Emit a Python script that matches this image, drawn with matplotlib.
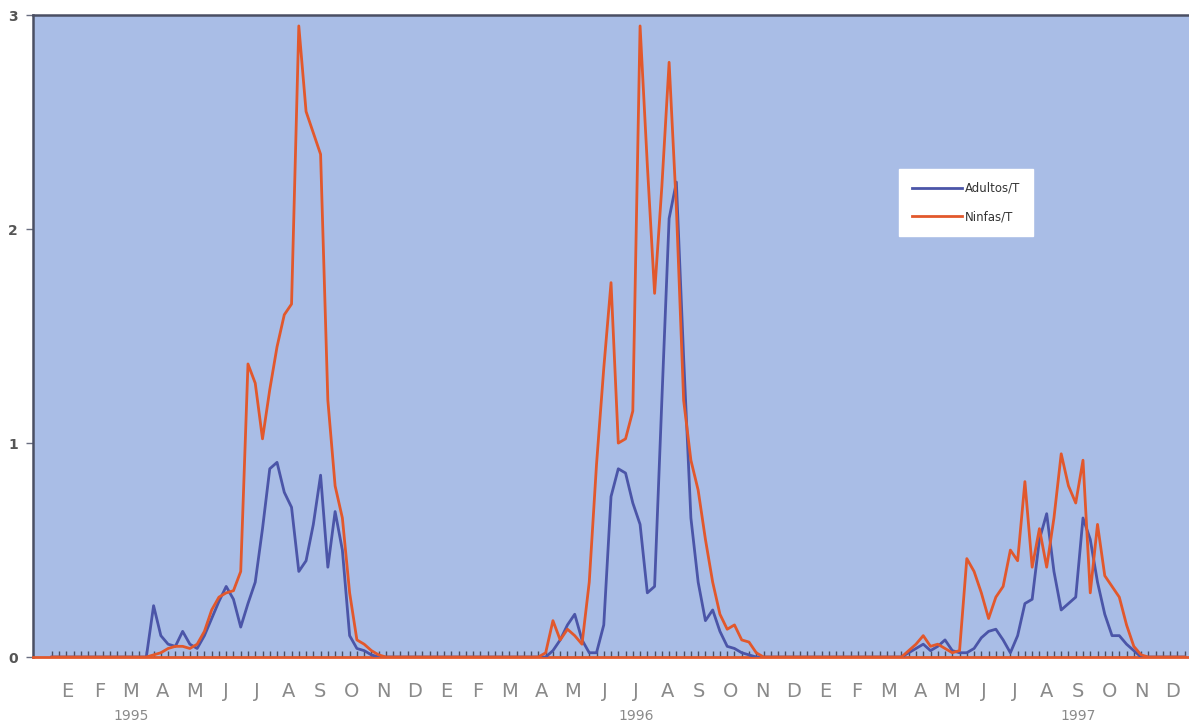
import numpy as np
import matplotlib
matplotlib.use("Agg")
import matplotlib.pyplot as plt
from matplotlib.transforms import blended_transform_factory

# ---------------- data (weekly samples, week 0 = first week of Jan 1995) ----------------
n_weeks = 157

# season 1995: weeks 12..46
w1995 = list(range(12, 47))
adultos_1995 = [0, 0, 0.24, 0.10, 0.06, 0.05, 0.12, 0.06, 0.04, 0.10, 0.18, 0.26, 0.33, 0.27,
                0.14, 0.25, 0.35, 0.60, 0.88, 0.91, 0.77, 0.70, 0.40, 0.45, 0.62, 0.85, 0.42,
                0.68, 0.50, 0.10, 0.04, 0.03, 0.01, 0, 0]
ninfas_1995 = [0, 0, 0.01, 0.02, 0.04, 0.05, 0.05, 0.04, 0.06, 0.12, 0.22, 0.28, 0.30, 0.31,
               0.40, 1.37, 1.28, 1.02, 1.25, 1.45, 1.60, 1.65, 2.95, 2.55, 2.45, 2.35, 1.20,
               0.80, 0.65, 0.30, 0.08, 0.06, 0.03, 0.01, 0]

# season 1996: weeks 67..98
w1996 = list(range(67, 99))
adultos_1996 = [0, 0, 0.03, 0.08, 0.15, 0.20, 0.08, 0.02, 0.02, 0.15, 0.75, 0.88, 0.86, 0.72,
                0.62, 0.30, 0.33, 1.20, 2.05, 2.22, 1.40, 0.65, 0.35, 0.17, 0.22, 0.12, 0.05,
                0.04, 0.02, 0.01, 0, 0]
ninfas_1996 = [0, 0.02, 0.17, 0.08, 0.13, 0.10, 0.06, 0.35, 0.90, 1.35, 1.75, 1.00, 1.02, 1.15,
               2.95, 2.30, 1.70, 2.20, 2.78, 2.10, 1.20, 0.92, 0.78, 0.55, 0.35, 0.20, 0.13,
               0.15, 0.08, 0.07, 0.02, 0]

# season 1997: weeks 117..151
w1997 = list(range(117, 152))
adultos_1997 = [0, 0.02, 0.04, 0.06, 0.03, 0.05, 0.08, 0.03, 0.02, 0.02, 0.04, 0.09, 0.12, 0.13,
                0.08, 0.02, 0.10, 0.25, 0.27, 0.55, 0.67, 0.40, 0.22, 0.25, 0.28, 0.65, 0.55,
                0.35, 0.20, 0.10, 0.10, 0.06, 0.03, 0, 0]
ninfas_1997 = [0, 0.03, 0.06, 0.10, 0.05, 0.06, 0.04, 0.02, 0.03, 0.46, 0.40, 0.30, 0.18, 0.28,
               0.33, 0.50, 0.45, 0.82, 0.42, 0.60, 0.42, 0.65, 0.95, 0.80, 0.72, 0.92, 0.30,
               0.62, 0.38, 0.33, 0.28, 0.15, 0.05, 0.01, 0]

months = ["E", "F", "M", "A", "M", "J", "J", "A", "S", "O", "N", "D"] * 3
year_labels = ["1995", "1996", "1997"]
year_month_index = [2, 18, 32]   # under M-1995, J-1996, S-1997

series_names = ["Adultos/T", "Ninfas/T"]

# ---------------- assemble weekly series ----------------
weeks = np.arange(n_weeks)
adultos = np.zeros(n_weeks)
ninfas = np.zeros(n_weeks)
for w, a, nn in [(w1995, adultos_1995, ninfas_1995),
                 (w1996, adultos_1996, ninfas_1996),
                 (w1997, adultos_1997, ninfas_1997)]:
    adultos[w] = a
    ninfas[w] = nn

wpm = 52.18 / 12.0  # weeks per month

# ---------------- figure ----------------
fig = plt.figure(figsize=(11.89, 7.26), dpi=100)
fig.patch.set_facecolor("white")
ax = fig.add_axes([0.0278, 0.095, 0.9722, 0.884])
ax.set_facecolor("#a9bde6")

blue = "#4b55a8"
orange = "#e2582c"

ax.plot(weeks, adultos, color=blue, lw=2.0, label=series_names[0], zorder=3)
ax.plot(weeks, ninfas, color=orange, lw=2.0, label=series_names[1], zorder=3)

ax.set_xlim(-2.6, 156.6)
ax.set_ylim(0, 3)

# spines
for s in ["top", "left"]:
    ax.spines[s].set_color("#4a4f63")
    ax.spines[s].set_linewidth(1.8)
ax.spines["right"].set_visible(False)
ax.spines["bottom"].set_color(orange)
ax.spines["bottom"].set_linewidth(2.0)

# y ticks
ax.set_yticks([0, 1, 2, 3])
ax.set_yticklabels(["0", "1", "2", "3"])
ax.tick_params(axis="y", direction="out", length=5, width=1, color="#6a6e80",
               labelsize=10, labelcolor="#555555", pad=6)
for lab in ax.get_yticklabels():
    lab.set_fontweight("bold")

# x ticks: month labels at month centres, weekly minor ticks
ax.set_xticks([(m + 0.5) * wpm for m in range(36)])
ax.set_xticklabels(months)
ax.set_xticks(np.arange(0, n_weeks, 1), minor=True)
ax.tick_params(axis="x", which="major", length=0, labelsize=14, labelcolor="#8a8a8a", pad=18)
ax.tick_params(axis="x", which="minor", direction="in", length=4, width=1, color="#4a4f63")

trans = blended_transform_factory(ax.transData, ax.transAxes)
for lab, mi in zip(year_labels, year_month_index):
    ax.text((mi + 0.5) * wpm, -0.092, lab, transform=trans, ha="center", va="center",
            fontsize=10, color="#8a8a8a")

leg = ax.legend(loc="upper left", bbox_to_anchor=(0.744, 0.77), frameon=True,
                fontsize=8.5, handlelength=4.2, handletextpad=0.3, borderpad=1.1,
                labelspacing=1.3, fancybox=False, framealpha=1.0)
leg.get_frame().set_facecolor("white")
leg.get_frame().set_edgecolor("white")
for t in leg.get_texts():
    t.set_color("#333333")

fig.savefig("out.png", dpi=100)
